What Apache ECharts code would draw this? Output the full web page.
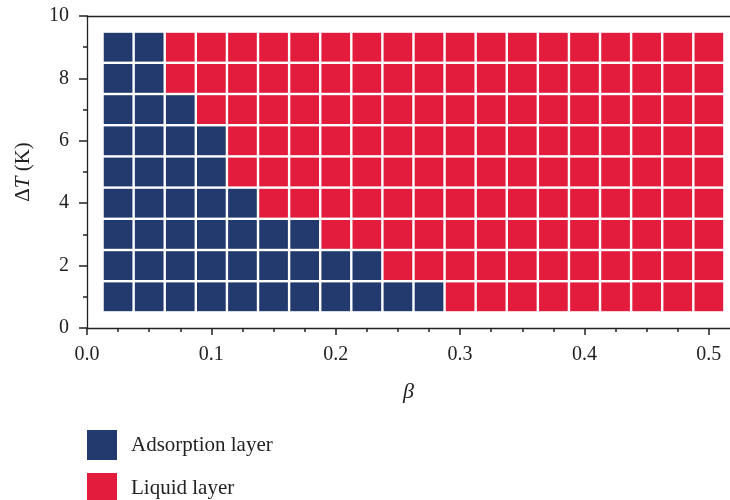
<!DOCTYPE html>
<html>
<head>
<meta charset="utf-8">
<script src="https://cdn.jsdelivr.net/npm/echarts@6/dist/echarts.min.js"></script>
<style>
  html, body { margin: 0; padding: 0; background: #fff; }
  #chart { width: 730px; height: 500px; }
</style>
</head>
<body>
<div id="chart"></div>
<script>
// β values of the grid columns
const betaValues = [0.025, 0.05, 0.075, 0.1, 0.125, 0.15, 0.175, 0.2, 0.225, 0.25,
                    0.275, 0.3, 0.325, 0.35, 0.375, 0.4, 0.425, 0.45, 0.475, 0.5];
// ΔT values of the grid rows (K)
const deltaTValues = [1, 2, 3, 4, 5, 6, 7, 8, 9];
// Layer found at each (ΔT, β) cell: A = adsorption layer, L = liquid layer
const layerGrid = [
  'AAAAAAAAAAALLLLLLLLL', // ΔT = 1
  'AAAAAAAAALLLLLLLLLLL', // ΔT = 2
  'AAAAAAALLLLLLLLLLLLL', // ΔT = 3
  'AAAAALLLLLLLLLLLLLLL', // ΔT = 4
  'AAAALLLLLLLLLLLLLLLL', // ΔT = 5
  'AAAALLLLLLLLLLLLLLLL', // ΔT = 6
  'AAALLLLLLLLLLLLLLLLL', // ΔT = 7
  'AALLLLLLLLLLLLLLLLLL', // ΔT = 8
  'AALLLLLLLLLLLLLLLLLL'  // ΔT = 9
];
const layerNames = { A: 'Adsorption layer', L: 'Liquid layer' };
const layerColors = { A: '#223a6d', L: '#e31b3c' };

// tick labels
const xMajorTicks = [0, 0.1, 0.2, 0.3, 0.4, 0.5];
const xMinorTicks = [0.025, 0.05, 0.075, 0.125, 0.15, 0.175, 0.225, 0.25, 0.275,
                     0.325, 0.35, 0.375, 0.425, 0.45, 0.475];

const halfW = (betaValues[1] - betaValues[0]) / 2;
const halfH = (deltaTValues[1] - deltaTValues[0]) / 2;

const cellData = { A: [], L: [] };
layerGrid.forEach((row, r) => {
  row.split('').forEach((code, c) => {
    cellData[code].push([betaValues[c], deltaTValues[r]]);
  });
});

// one square per (β, ΔT) cell, with a thin white gap around it
function renderCell(params, api) {
  const x = api.value(0), y = api.value(1);
  const p0 = api.coord([x - halfW, y + halfH]);
  const p1 = api.coord([x + halfW, y - halfH]);
  return {
    type: 'rect',
    shape: { x: p0[0] + 1.2, y: p0[1] + 1.2, width: p1[0] - p0[0] - 2.4, height: p1[1] - p0[1] - 2.4 },
    style: { fill: api.visual('color') }
  };
}

const FONT = '"Liberation Serif", "DejaVu Serif", serif';
const INK = '#222';
const xMax = 0.517;

const chart = echarts.init(document.getElementById('chart'), null, { renderer: 'canvas' });
chart.setOption({
  animation: false,
  backgroundColor: '#fff',
  textStyle: { fontFamily: FONT, color: INK },
  grid: { left: 87, right: 0, top: 16, bottom: 172 },
  legend: {
    orient: 'vertical',
    left: 87,
    top: 430,
    height: 90,
    padding: 0,
    itemWidth: 30,
    itemHeight: 30,
    itemGap: 13,
    icon: 'rect',
    textStyle: { fontFamily: FONT, fontSize: 21, color: INK, padding: [0, 0, 0, 9] },
    data: [layerNames.A, layerNames.L]
  },
  xAxis: [
    {
      type: 'value', min: 0, max: xMax, position: 'bottom',
      name: 'β', nameLocation: 'middle', nameGap: 53,
      nameTextStyle: { fontFamily: FONT, fontSize: 22, fontStyle: 'italic', color: INK },
      axisLine: { show: true, onZero: false, lineStyle: { color: INK, width: 1.3 } },
      axisTick: { show: true, length: 7, lineStyle: { color: INK, width: 1.5 }, customValues: xMajorTicks },
      axisLabel: { show: true, margin: 17, fontSize: 20, color: INK, fontFamily: FONT,
                   customValues: xMajorTicks, formatter: v => v.toFixed(1) },
      splitLine: { show: false }
    },
    {
      type: 'value', min: 0, max: xMax, position: 'bottom',
      axisLine: { show: false, onZero: false },
      axisTick: { show: true, length: 4, lineStyle: { color: INK, width: 1.5 }, customValues: xMinorTicks },
      axisLabel: { show: false },
      splitLine: { show: false }
    },
    {
      type: 'value', min: 0, max: xMax, position: 'top',
      axisLine: { show: true, onZero: false, lineStyle: { color: INK, width: 1.3 } },
      axisTick: { show: false },
      axisLabel: { show: false },
      splitLine: { show: false }
    }
  ],
  yAxis: {
    type: 'value', min: 0, max: 10, interval: 2,
    name: '{n|Δ}{i|T}{n| (K)}', nameLocation: 'middle', nameGap: 53,
    nameTextStyle: {
      rich: {
        n: { fontFamily: FONT, fontSize: 21, color: INK },
        i: { fontFamily: FONT, fontSize: 21, fontStyle: 'italic', color: INK }
      }
    },
    axisLine: { show: true, onZero: false, lineStyle: { color: INK, width: 1.3 } },
    axisTick: { show: true, length: 8, lineStyle: { color: INK, width: 1.5 } },
    minorTick: { show: true, splitNumber: 2, length: 4, lineStyle: { color: INK, width: 1.5 } },
    axisLabel: { margin: 18, fontSize: 20, color: INK, fontFamily: FONT },
    splitLine: { show: false }
  },
  series: ['A', 'L'].map(code => ({
    type: 'custom',
    name: layerNames[code],
    xAxisIndex: 0,
    yAxisIndex: 0,
    itemStyle: { color: layerColors[code] },
    renderItem: renderCell,
    encode: { x: 0, y: 1 },
    data: cellData[code]
  }))
});
</script>
</body>
</html>
